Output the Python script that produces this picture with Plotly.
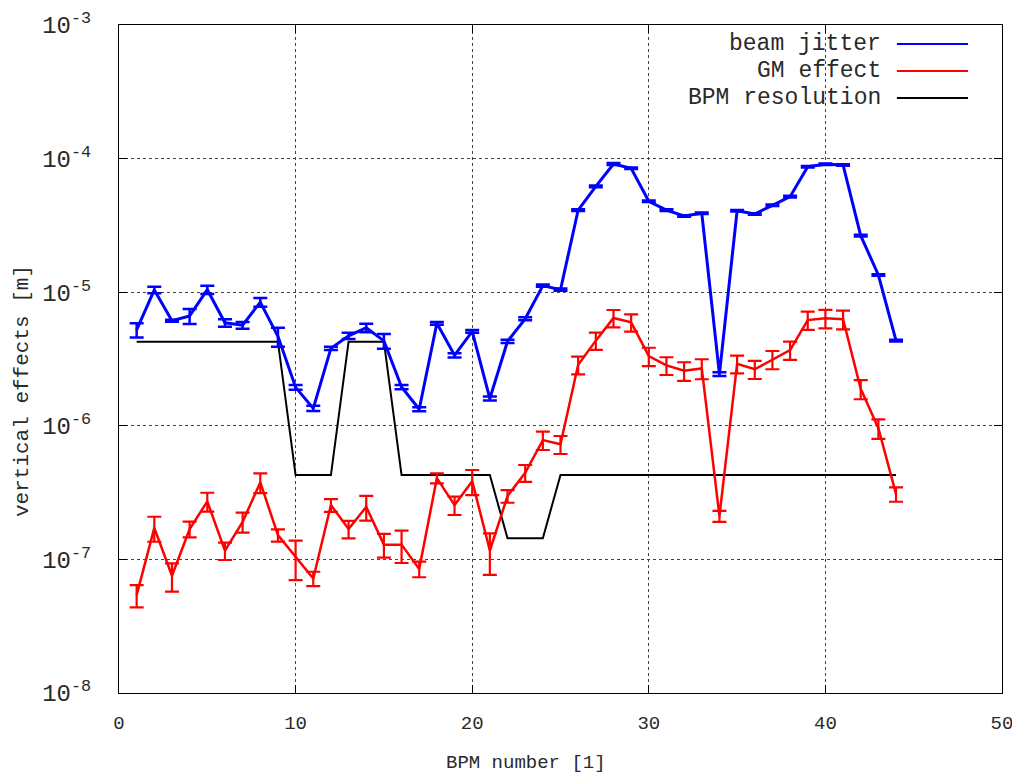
import plotly.graph_objects as go

bpm = list(range(1, 45))

jitter = [5.22e-6, 1.04e-5, 6.12e-6, 6.64e-6, 1.044e-5, 5.90e-6, 5.66e-6, 8.42e-6, 4.67e-6, 1.94e-6,
          1.35e-6, 3.80e-6, 4.72e-6, 5.41e-6, 4.32e-6, 1.95e-6, 1.33e-6, 5.85e-6, 3.37e-6, 5.10e-6,
          1.60e-6, 4.29e-6, 6.32e-6, 1.12e-5, 1.044e-5, 4.12e-5, 6.20e-5, 9.11e-5, 8.46e-5, 4.79e-5,
          4.12e-5, 3.72e-5, 3.90e-5, 2.44e-6, 4.07e-5, 3.85e-5, 4.47e-5, 5.19e-5, 8.70e-5, 9.06e-5,
          8.96e-5, 2.65e-5, 1.345e-5, 4.34e-6]
jitter_err = [0.63e-6, 0.06e-5, 0.1e-6, 0.86e-6, 0.075e-5, 0.38e-6, 0.33e-6, 0.63e-6, 0.76e-6, 0.08e-6,
              0.06e-6, 0.11e-6, 0.26e-6, 0.40e-6, 0.55e-6, 0.07e-6, 0.045e-6, 0.14e-6, 0.12e-6, 0.12e-6,
              0.055e-6, 0.12e-6, 0.16e-6, 0.02e-5, 0.02e-5, 0.06e-5, 0.1e-5, 0.15e-5, 0.1e-5, 0.06e-5,
              0.06e-5, 0.05e-5, 0.05e-5, 0.08e-6, 0.06e-5, 0.05e-5, 0.06e-5, 0.08e-5, 0.12e-5, 0.12e-5,
              0.12e-5, 0.04e-5, 0.02e-5, 0.06e-6]

gm = [5.40e-8, 1.72e-7, 7.54e-8, 1.69e-7, 2.715e-7, 1.162e-7, 1.91e-7, 3.77e-7, 1.52e-7, 1.04e-7,
      7.20e-8, 2.55e-7, 1.69e-7, 2.47e-7, 1.29e-7, 1.29e-7, 8.48e-8, 4.06e-7, 2.55e-7, 3.85e-7,
      1.166e-7, 2.98e-7, 4.45e-7, 7.81e-7, 7.27e-7, 2.86e-6, 4.34e-6, 6.41e-6, 5.95e-6, 3.32e-6,
      2.83e-6, 2.58e-6, 2.69e-6, 2.11e-7, 2.91e-6, 2.65e-6, 3.14e-6, 3.69e-6, 6.18e-6, 6.37e-6,
      6.27e-6, 1.89e-6, 9.58e-7, 3.08e-7]
gm_err = [1.02e-8, 0.365e-7, 1.81e-8, 0.226e-7, 0.44e-7, 0.172e-7, 0.326e-7, 0.64e-7, 0.16e-7, 0.34e-7,
          0.885e-8, 0.28e-7, 0.255e-7, 0.52e-7, 0.26e-7, 0.35e-7, 1.13e-8, 0.35e-7, 0.40e-7, 0.82e-7,
          0.40e-7, 0.325e-7, 0.64e-7, 1.22e-7, 1.12e-7, 0.43e-6, 0.645e-6, 0.95e-6, 0.885e-6, 0.52e-6,
          0.43e-6, 0.41e-6, 0.46e-6, 0.20e-7, 0.44e-6, 0.41e-6, 0.49e-6, 0.575e-6, 0.965e-6, 1.0e-6,
          1.0e-6, 0.31e-6, 1.6e-7, 0.38e-7]

bpm_res = [4.26e-6, 4.26e-6, 4.26e-6, 4.26e-6, 4.26e-6, 4.26e-6, 4.26e-6, 4.26e-6, 4.26e-6, 4.28e-7,
           4.28e-7, 4.28e-7, 4.26e-6, 4.26e-6, 4.26e-6, 4.28e-7, 4.28e-7, 4.28e-7, 4.28e-7, 4.28e-7,
           4.28e-7, 1.44e-7, 1.44e-7, 1.44e-7, 4.28e-7, 4.28e-7, 4.28e-7, 4.28e-7, 4.28e-7, 4.28e-7,
           4.28e-7, 4.28e-7, 4.28e-7, 4.28e-7, 4.28e-7, 4.28e-7, 4.28e-7, 4.28e-7, 4.28e-7, 4.28e-7,
           4.28e-7, 4.28e-7, 4.28e-7, 4.28e-7]

legend_names = ["beam jitter", "GM effect", "BPM resolution"]
colors = ["#0000ff", "#ff0000", "#000000"]

y_tickvals = [1e-8, 1e-7, 1e-6, 1e-5, 1e-4, 1e-3]
y_ticktext = ["10<sup>-8</sup>", "10<sup>-7</sup>", "10<sup>-6</sup>", "10<sup>-5</sup>",
              "10<sup>-4</sup>", "10<sup>-3</sup>"]
x_tickvals = [0, 10, 20, 30, 40, 50]
x_title = "BPM number [1]"
y_title = "vertical effects [m]"

FONT = "Liberation Mono"
TXT = "#2a2a2a"

fig = go.Figure()
fig.add_trace(go.Scatter(x=bpm, y=bpm_res, mode="lines", name=legend_names[2],
                         line=dict(color=colors[2], width=2), showlegend=False))
fig.add_trace(go.Scatter(x=bpm, y=gm, mode="lines", name=legend_names[1],
                         line=dict(color=colors[1], width=2.5),
                         error_y=dict(type="data", array=gm_err, color=colors[1], thickness=2.2, width=7),
                         showlegend=False))
fig.add_trace(go.Scatter(x=bpm, y=jitter, mode="lines", name=legend_names[0],
                         line=dict(color=colors[0], width=3),
                         error_y=dict(type="data", array=jitter_err, color=colors[0], thickness=2.5, width=7),
                         showlegend=False))

# custom legend (gnuplot style: text right, sample line at right)
leg_y = [0.9716, 0.9311, 0.8907]
for name, col, yy in zip(legend_names, colors, leg_y):
    fig.add_annotation(x=0.865, y=yy, xref="paper", yref="paper", text=name, showarrow=False,
                       xanchor="right", yanchor="middle",
                       font=dict(family=FONT, size=23, color=TXT))
    fig.add_shape(type="line", xref="paper", yref="paper", x0=0.881, x1=0.9615, y0=yy, y1=yy,
                  line=dict(color=col, width=2))

# axis titles
fig.add_annotation(x=0.461, y=-0.1048, xref="paper", yref="paper", text=x_title, showarrow=False,
                   xanchor="center", yanchor="middle", font=dict(family=FONT, size=19, color=TXT))
fig.add_annotation(x=-0.1099, y=0.452, xref="paper", yref="paper", text=y_title, showarrow=False,
                   textangle=-90, xanchor="center", yanchor="middle",
                   font=dict(family=FONT, size=21, color=TXT))

fig.update_layout(
    width=1020, height=774,
    margin=dict(l=111, r=26, t=17, b=89, autoexpand=False),
    paper_bgcolor="white", plot_bgcolor="white",
    font=dict(family=FONT, size=19, color=TXT),
)
fig.update_xaxes(range=[0, 50], tickvals=x_tickvals, ticks="inside", ticklen=8, tickcolor="black",
                 showline=True, linecolor="black", linewidth=1, mirror="ticks", automargin=False,
                 showgrid=True, gridcolor="#444", griddash="dot", gridwidth=1, zeroline=False,
                 tickfont=dict(family=FONT, size=19, color=TXT), ticklabelstandoff=12)
fig.update_yaxes(type="log", range=[-8, -3], tickvals=y_tickvals, ticktext=y_ticktext,
                 ticks="inside", ticklen=8, tickcolor="black", automargin=False,
                 showline=True, linecolor="black", linewidth=1, mirror="ticks",
                 showgrid=True, gridcolor="#444", griddash="dot", gridwidth=1, zeroline=False,
                 tickfont=dict(family=FONT, size=24, color=TXT), ticklabelstandoff=22)

fig.write_html("out.html")
